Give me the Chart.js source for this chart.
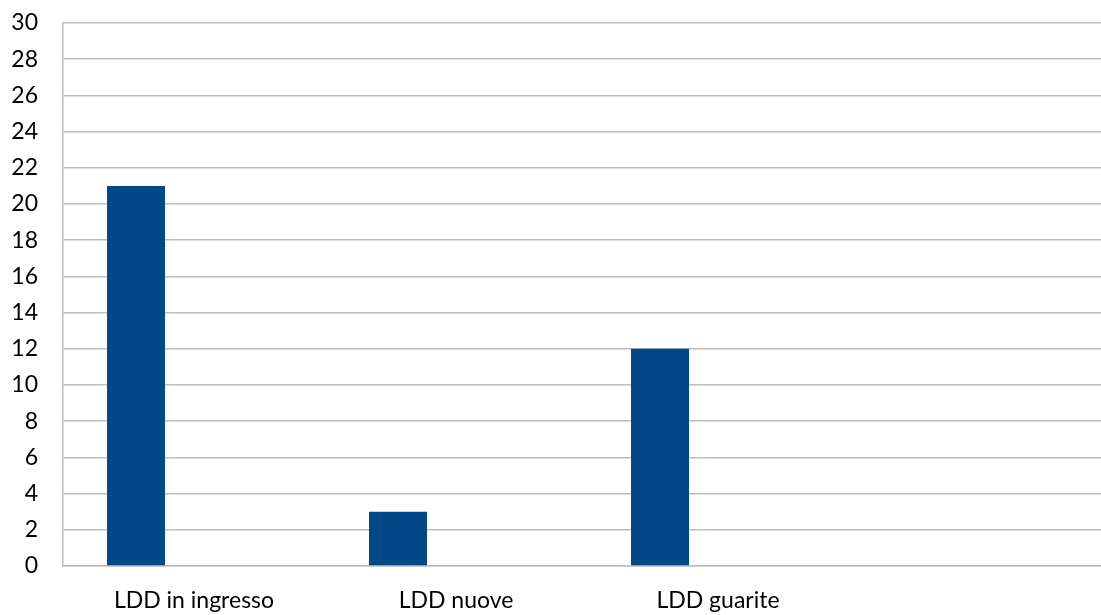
<!DOCTYPE html>
<html>
<head>
<meta charset="utf-8">
<script src="https://cdn.jsdelivr.net/npm/chart.js@4/dist/chart.umd.min.js"></script>
<style>
  html, body { margin: 0; padding: 0; background: #ffffff; overflow: hidden; }
  #wrap { position: relative; width: 1111px; height: 615px; }
</style>
</head>
<body>
<div id="wrap"><canvas id="chart"></canvas></div>
<script>
// Categories on the x axis (the fourth slot is left blank)
const categories = ['LDD in ingresso', 'LDD nuove', 'LDD guarite', ''];
// Counts per category
const lddValues = [21, 3, 12, null];
// Two empty series that keep their slots in each group
const emptySeriesA = [null, null, null, null];
const emptySeriesB = [null, null, null, null];
// Y axis range and step
const yMin = 0, yMax = 30, yStep = 2;

const labelFont = { family: 'Lato, "Open Sans", sans-serif', size: 23 };

new Chart(document.getElementById('chart'), {
  type: 'bar',
  data: {
    labels: categories,
    datasets: [
      { label: 'LDD', data: lddValues, backgroundColor: '#024786' },
      { label: 'A', data: emptySeriesA, backgroundColor: '#c0504d' },
      { label: 'B', data: emptySeriesB, backgroundColor: '#9bbb59' }
    ]
  },
  options: {
    responsive: true,
    maintainAspectRatio: false,
    animation: false,
    layout: { padding: { top: 23, left: 0, right: 0, bottom: 0 } },
    datasets: { bar: { categoryPercentage: 0.664, barPercentage: 1.0 } },
    plugins: { legend: { display: false }, tooltip: { enabled: false } },
    scales: {
      x: {
        grid: { display: false, drawTicks: false },
        border: { display: true, color: '#bdbdbd', width: 1.5 },
        ticks: { font: labelFont, color: '#000000', padding: 21, maxRotation: 0, autoSkip: false },
        afterFit: (s) => { s.height = 49; }
      },
      y: {
        min: yMin, max: yMax,
        grid: { color: '#bdbdbd', lineWidth: 1.5, drawTicks: false },
        border: { display: true, color: '#bdbdbd', width: 1.5 },
        ticks: { stepSize: yStep, font: labelFont, color: '#000000', padding: 25 },
        afterFit: (s) => { s.width = 63; s.paddingTop = 0; s.paddingBottom = 0; }
      }
    }
  }
});
</script>
</body>
</html>
